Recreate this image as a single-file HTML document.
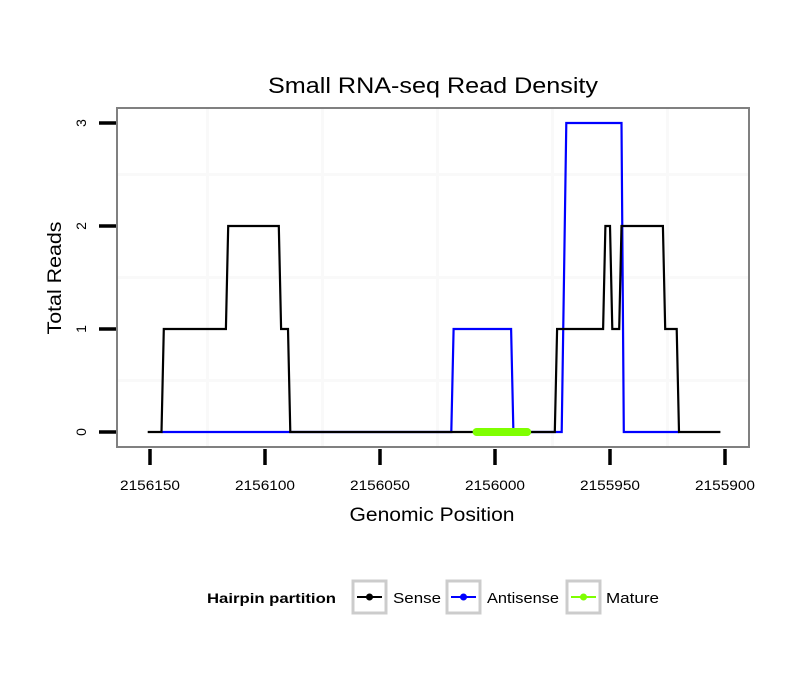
<!DOCTYPE html>
<html><head><meta charset="utf-8"><style>
body{margin:0;background:#fff}
svg text{font-family:"Liberation Sans",sans-serif}
</style></head><body>
<svg id="chart" width="810" height="690" xmlns="http://www.w3.org/2000/svg">
<rect width="810" height="690" fill="#fff"/>
<text x="433" y="93" font-size="22" text-anchor="middle" textLength="330" lengthAdjust="spacingAndGlyphs">Small RNA-seq Read Density</text>
<g id="grid"></g>
<g id="series"></g>
<rect x="117" y="108" width="632" height="339" fill="none" stroke="#808080" stroke-width="2"/>
<g id="axes"></g>
<text x="432" y="521" font-size="19" text-anchor="middle" textLength="165" lengthAdjust="spacingAndGlyphs">Genomic Position</text>
<text transform="translate(61,278) rotate(-90)" font-size="19" text-anchor="middle" textLength="113" lengthAdjust="spacingAndGlyphs">Total Reads</text>
<g>
<text x="207" y="603" font-size="14" font-weight="bold" textLength="129" lengthAdjust="spacingAndGlyphs">Hairpin partition</text>
<g>
<rect x="353" y="581" width="33" height="32" fill="none" stroke="#ccc" stroke-width="3"/>
<line x1="357" y1="597" x2="382" y2="597" stroke="#000" stroke-width="2"/><circle cx="369.5" cy="597" r="3.5" fill="#000"/>
<text x="393" y="603" font-size="15" textLength="48" lengthAdjust="spacingAndGlyphs">Sense</text></g>
<g>
<rect x="447" y="581" width="33" height="32" fill="none" stroke="#ccc" stroke-width="3"/>
<line x1="451" y1="597" x2="476" y2="597" stroke="#00f" stroke-width="2"/><circle cx="463.5" cy="597" r="3.5" fill="#00f"/>
<text x="487" y="603" font-size="15" textLength="72" lengthAdjust="spacingAndGlyphs">Antisense</text></g>
<g>
<rect x="567" y="581" width="33" height="32" fill="none" stroke="#ccc" stroke-width="3"/>
<line x1="571" y1="597" x2="596" y2="597" stroke="#7fff00" stroke-width="2"/><circle cx="583.5" cy="597" r="3.5" fill="#7fff00"/>
<text x="606" y="603" font-size="15" textLength="53" lengthAdjust="spacingAndGlyphs">Mature</text></g>
</g>
</svg>
<script>
const xTicks=[2156150,2156100,2156050,2156000,2155950,2155900];
const yTicks=[0,1,2,3];
const senseX=[2156151,2156145,2156144,2156117,2156116,2156094,2156093,2156090,2156089,2155974,2155973,2155953,2155952,2155950,2155949,2155946,2155945,2155927,2155926,2155921,2155920,2155902];
const senseY=[0,0,1,1,2,2,1,1,0,0,1,1,2,2,1,1,2,2,1,1,0,0];
const antiX=[2156145,2156019,2156018,2155993,2155992,2155971,2155969,2155945,2155944,2155920];
const antiY=[0,0,1,1,0,0,3,3,0,0];
const matureX=[2156008,2155986];
const matureY=[0,0];
const NS="http://www.w3.org/2000/svg";
function sx(g){return 150+(2156150-g)*2.3;}
function sy(v){return 432-v*103;}
function mk(tag,attrs,parent){const e=document.createElementNS(NS,tag);for(const k in attrs)e.setAttribute(k,attrs[k]);parent.appendChild(e);return e;}
const grid=document.getElementById('grid'),axes=document.getElementById('axes'),series=document.getElementById('series');
for(let i=0;i<xTicks.length-1;i++){const x=(sx(xTicks[i])+sx(xTicks[i+1]))/2;
const l=mk('line',{x1:x,x2:x,y1:109,y2:446,stroke:'#f9f9f9','stroke-width':3},grid);

}
for(let i=0;i<yTicks.length-1;i++){const y=(sy(yTicks[i])+sy(yTicks[i+1]))/2;
const l=mk('line',{x1:118,x2:748,y1:y,y2:y,stroke:'#f9f9f9','stroke-width':3},grid);

}
xTicks.forEach(t=>{const x=sx(t);
const l=mk('line',{x1:x,x2:x,y1:449,y2:465,stroke:'#000','stroke-width':3.5},axes);


const tx=mk('text',{x:x,y:490,'font-size':14,'text-anchor':'middle',textLength:60,lengthAdjust:'spacingAndGlyphs'},axes);tx.textContent=t;

});
yTicks.forEach(t=>{const y=sy(t);
const l=mk('line',{x1:99,x2:116,y1:y,y2:y,stroke:'#000','stroke-width':3.5},axes);


const tx=mk('text',{transform:`translate(86,${y}) rotate(-90)`,'font-size':14,'text-anchor':'middle'},axes);tx.textContent=t;

});
function pts(X,Y){return X.map((g,i)=>sx(g)+','+sy(Y[i])).join(' ');}
const a=mk('polyline',{points:pts(antiX,antiY),fill:'none',stroke:'#00f','stroke-width':2.2},series);


const s=mk('polyline',{points:pts(senseX,senseY),fill:'none',stroke:'#000','stroke-width':2.2},series);


const m=mk('polyline',{points:pts(matureX,matureY),fill:'none',stroke:'#7fff00','stroke-width':8,'stroke-linecap':'round'},series);


</script>
</body></html>
